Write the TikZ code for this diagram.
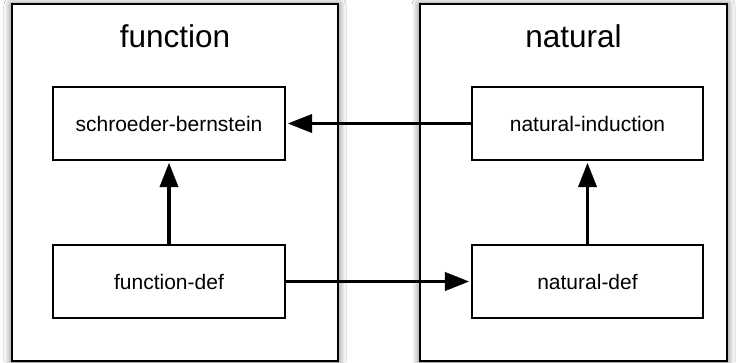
\documentclass[tikz,border=0pt]{standalone}
\usepackage{fontspec}
\setmainfont{Liberation Sans}
\usetikzlibrary{arrows.meta,shadows.blur}
\tikzset{
  outerbox/.style={draw=black, line width=1.6pt, fill=white,
    blur shadow={shadow xshift=0pt, shadow yshift=-1pt, shadow blur radius=8pt, shadow opacity=70}},
  innerbox/.style={draw=black, line width=1.3pt, fill=white, minimum width=232pt, minimum height=73pt,
    inner sep=0pt, font=\fontsize{21}{24}\selectfont},
  titletext/.style={font=\fontsize{31.5}{36}\selectfont, inner sep=0pt},
  conn/.style={draw=black, line width=3.3pt,
    -{Triangle[length=24pt,width=19pt,fill=black,line width=0.4pt]}, shorten >=2.5pt}
}
\begin{document}
\begin{tikzpicture}[x=1pt,y=1pt]
\useasboundingbox (0,0) rectangle (736,362);
\fill[white] (0,0) rectangle (736,362);
\draw[outerbox] (12,1) rectangle (338,358);
\draw[outerbox] (420,1) rectangle (727,358);
\node[titletext] (tfun) at (175,326) {function};
\node[titletext] (tnat) at (573.5,326) {natural};
\node[innerbox] (sb) at (169,238.5) {schroeder-bernstein};
\node[innerbox] (fd) at (169,80.5) {function-def};
\node[innerbox, minimum width=231pt] (ni) at (587.5,238.5) {natural-induction};
\node[innerbox, minimum width=231pt] (nd) at (587.5,80.5) {natural-def};
\draw[conn] (fd.north) -- (sb.south);
\draw[conn] (nd.north) -- (ni.south);
\draw[conn] (ni.west) -- (sb.east);
\draw[conn] (fd.east) -- (nd.west);
\end{tikzpicture}
\end{document}
